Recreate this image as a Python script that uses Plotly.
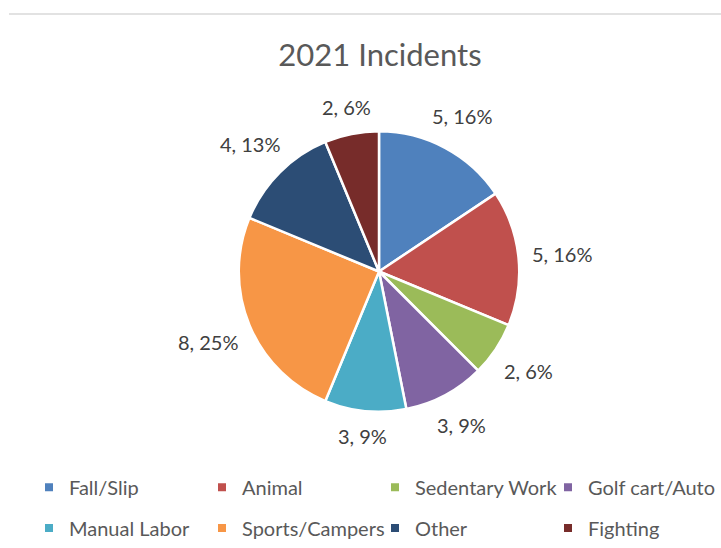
import math
import plotly.graph_objects as go

categories = ["Fall/Slip", "Animal", "Sedentary Work", "Golf cart/Auto",
              "Manual Labor", "Sports/Campers", "Other", "Fighting"]
incidents = [5, 5, 2, 3, 3, 8, 4, 2]
colors = ["#4F81BD", "#C0504D", "#9BBB59", "#8064A2",
          "#4BACC6", "#F79646", "#2C4D75", "#772C2A"]

W, H = 721, 548
cx, cy, r = 379, 273, 141          # pie centre and radius in pixels
FONT = "Lato"
LABEL_SIZE = 20

fig = go.Figure()
fig.add_trace(go.Pie(
    labels=categories,
    values=incidents,
    sort=False,
    direction="clockwise",
    rotation=0,
    marker=dict(colors=colors, line=dict(color="white", width=2.5)),
    textinfo="none",
    hoverinfo="label+value+percent",
    showlegend=False,
    domain=dict(x=[(cx - r) / W, (cx + r) / W], y=[1 - (cy + r) / H, 1 - (cy - r) / H]),
))

# data labels "value, percent" placed outside each slice at its mid-angle
total = sum(incidents)
annotations = []
cum = 0
for v in incidents:
    theta = math.radians((cum + v / 2) / total * 360)
    cum += v
    pct = int(v / total * 100 + 0.5)   # round half up
    text = f"{v}, {pct}%"
    w = 0.5 * LABEL_SIZE * len(text)
    h = 0.55 * LABEL_SIZE
    s, c = math.sin(theta), math.cos(theta)
    d = r + 12 + abs(s) * w / 2 + abs(c) * h
    annotations.append(dict(
        text=text, showarrow=False, xref="paper", yref="paper",
        x=(cx + d * s) / W, y=1 - (cy - d * c) / H,
        xanchor="center", yanchor="middle",
        font=dict(size=LABEL_SIZE, color="#404040", family=FONT),
    ))

# legend entries: two rows of four
for i, (name, col) in enumerate(zip(categories, colors)):
    fig.add_trace(go.Scatter(
        x=[None], y=[None], mode="markers", name=name,
        marker=dict(symbol="square", size=8, color=col),
        legend="legend" if i < 4 else "legend2",
        hoverinfo="skip",
    ))

legend_style = dict(orientation="h", x=0.042, xanchor="left", yanchor="middle",
                    entrywidth=128, entrywidthmode="pixels", itemwidth=30,
                    font=dict(size=20, color="#595959", family=FONT),
                    traceorder="normal", bgcolor="rgba(0,0,0,0)")

fig.update_layout(
    width=W, height=H,
    margin=dict(l=0, r=0, t=0, b=0),
    paper_bgcolor="white",
    plot_bgcolor="white",
    font=dict(family=FONT, color="#595959"),
    title=dict(text="2021 Incidents", x=0.527, xanchor="center", y=1 - 55 / H, yanchor="middle",
               font=dict(size=31, color="#595959", family=FONT)),
    xaxis=dict(visible=False),
    yaxis=dict(visible=False),
    legend=dict(y=1 - 490 / H, **legend_style),
    legend2=dict(y=1 - 531 / H, **legend_style),
    annotations=annotations,
    shapes=[dict(type="line", xref="paper", yref="paper", x0=9 / W, x1=1, y0=1 - 14 / H, y1=1 - 14 / H,
                 line=dict(color="#D9D9D9", width=1.5))],
)

fig.write_html("out.html")
